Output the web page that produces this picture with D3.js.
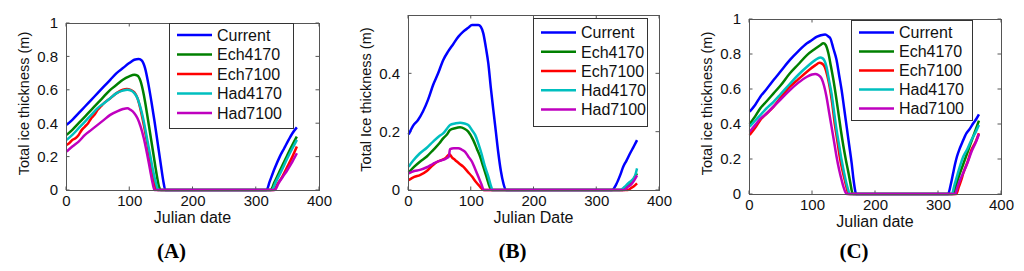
<!DOCTYPE html>
<html>
<head>
<meta charset="utf-8">
<script src="https://cdn.jsdelivr.net/npm/d3@7"></script>
<style>
    body { margin: 0; background: #ffffff; }
    svg { display: block; }
</style>
</head>
<body>
<svg id="ice-chart" width="1024" height="271"></svg>
<script>
/*--------------------------------------------------------------------------------
----- DATA (total ice thickness per julian day)
--------------------------------------------------------------------------------*/

const series_names = ["Current", "Ech4170", "Ech7100", "Had4170", "Had7100"];
const panel_tags = ["(A)", "(B)", "(C)"];
const x_titles = ["Julian date", "Julian Date", "Julian date"];
const y_titles = ["Total ice thickness (m)", "Total Ice thickness (m)", "Total ice thickness (m)"];
const x_ticks = [0, 100, 200, 300, 400];
const y_ticks_full = [0, 0.2, 0.4, 0.6, 0.8, 1];
const y_ticks_small = [0, 0.2, 0.4];

// Panel A : [julian day, thickness]
const a_current = [[1,0.39],[10,0.42],[20,0.46],[30,0.50],[40,0.54],[50,0.58],[60,0.62],[70,0.66],[80,0.70],[90,0.73],[100,0.76],[108,0.78],[115,0.785],[120,0.775],[125,0.73],[130,0.64],[135,0.53],[140,0.41],[145,0.28],[150,0.15],[154,0.05],[157,0],[317,0],[322,0.05],[330,0.13],[338,0.20],[345,0.25],[352,0.30],[358,0.34],[365,0.375]];
const a_ech4170 = [[1,0.33],[10,0.36],[20,0.40],[30,0.44],[40,0.48],[50,0.52],[60,0.56],[70,0.60],[80,0.63],[90,0.66],[100,0.68],[108,0.69],[113,0.685],[118,0.65],[123,0.57],[128,0.46],[133,0.34],[138,0.22],[143,0.10],[147,0.02],[150,0],[323,0],[330,0.05],[340,0.13],[350,0.21],[358,0.27],[365,0.32]];
const a_ech7100 = [[1,0.27],[5,0.28],[10,0.30],[15,0.31],[20,0.33],[25,0.36],[30,0.38],[35,0.40],[40,0.43],[45,0.45],[50,0.48],[55,0.50],[60,0.52],[70,0.55],[80,0.58],[90,0.60],[96,0.605],[102,0.60],[108,0.585],[113,0.55],[118,0.48],[123,0.39],[128,0.29],[133,0.18],[138,0.08],[142,0.01],[144,0],[328,0],[335,0.04],[342,0.08],[350,0.14],[358,0.20],[365,0.26]];
const a_had4170 = [[1,0.30],[10,0.33],[20,0.37],[30,0.41],[40,0.45],[50,0.49],[60,0.52],[70,0.55],[80,0.58],[90,0.595],[97,0.60],[103,0.595],[108,0.58],[113,0.55],[118,0.49],[123,0.41],[128,0.31],[133,0.21],[138,0.11],[143,0.03],[146,0],[325,0],[332,0.05],[340,0.11],[350,0.19],[358,0.25],[365,0.30]];
const a_had7100 = [[1,0.23],[10,0.26],[20,0.29],[30,0.33],[40,0.36],[50,0.39],[60,0.42],[70,0.45],[80,0.47],[90,0.485],[97,0.49],[102,0.48],[108,0.46],[113,0.43],[118,0.38],[123,0.31],[128,0.22],[133,0.12],[137,0.04],[140,0],[330,0],[336,0.04],[343,0.08],[350,0.12],[358,0.17],[365,0.22]];

// Panel B
const b_current = [[1,0.19],[8,0.22],[16,0.24],[24,0.27],[32,0.31],[40,0.36],[48,0.40],[56,0.445],[64,0.475],[72,0.50],[80,0.525],[88,0.543],[96,0.556],[102,0.566],[112,0.566],[116,0.56],[120,0.537],[124,0.49],[128,0.434],[132,0.35],[136,0.274],[140,0.20],[144,0.126],[148,0.065],[152,0.023],[156,0],[325,0],[332,0.02],[338,0.05],[343,0.08],[348,0.10],[354,0.126],[360,0.15],[365,0.171]];
const b_ech4170 = [[1,0.06],[10,0.08],[19,0.097],[30,0.115],[40,0.137],[50,0.16],[56,0.177],[62,0.19],[67,0.206],[75,0.212],[83,0.215],[90,0.21],[96,0.2],[104,0.171],[110,0.14],[115,0.114],[120,0.08],[125,0.046],[130,0.012],[133,0],[342,0],[348,0.01],[355,0.025],[360,0.04],[365,0.057]];
const b_ech7100 = [[1,0.034],[10,0.045],[19,0.051],[30,0.065],[40,0.086],[48,0.098],[54,0.103],[60,0.11],[66,0.123],[70,0.112],[75,0.103],[82,0.09],[88,0.08],[95,0.063],[102,0.046],[108,0.028],[115,0.011],[120,0],[350,0],[355,0.006],[360,0.013],[365,0.023]];
const b_had4170 = [[1,0.08],[8,0.1],[19,0.126],[30,0.145],[40,0.166],[50,0.185],[56,0.194],[62,0.21],[67,0.223],[75,0.228],[83,0.231],[90,0.228],[96,0.223],[102,0.205],[107,0.189],[112,0.16],[117,0.126],[122,0.085],[128,0.046],[132,0.015],[135,0],[338,0],[345,0.01],[352,0.025],[357,0.034],[362,0.05],[365,0.074]];
const b_had7100 = [[1,0.057],[10,0.065],[19,0.069],[30,0.078],[40,0.09],[50,0.1],[56,0.103],[62,0.11],[65,0.115],[67,0.14],[73,0.143],[80,0.143],[86,0.138],[91,0.131],[96,0.115],[102,0.097],[107,0.072],[112,0.046],[117,0.02],[121,0],[345,0],[350,0.01],[356,0.02],[361,0.035],[365,0.05]];

// Panel C
const c_current = [[1,0.47],[10,0.51],[18,0.556],[28,0.60],[39,0.651],[50,0.70],[65,0.766],[78,0.815],[92,0.861],[100,0.88],[108,0.899],[114,0.907],[121,0.912],[126,0.90],[129,0.89],[134,0.83],[139,0.766],[143,0.68],[147,0.594],[151,0.49],[155,0.385],[159,0.28],[163,0.175],[166,0.08],[168,0.03],[170,0],[316,0],[320,0.05],[324,0.118],[327,0.17],[330,0.213],[334,0.255],[338,0.29],[345,0.347],[350,0.37],[356,0.404],[361,0.43],[365,0.455]];
const c_ech4170 = [[1,0.40],[10,0.445],[18,0.49],[28,0.53],[39,0.575],[50,0.62],[65,0.69],[78,0.74],[92,0.794],[105,0.83],[113,0.85],[118,0.861],[122,0.85],[126,0.804],[130,0.73],[134,0.651],[138,0.56],[142,0.461],[146,0.36],[150,0.27],[154,0.19],[158,0.118],[161,0.06],[163,0.02],[165,0],[324,0],[328,0.04],[333,0.10],[340,0.17],[348,0.25],[356,0.33],[365,0.419]];
const c_ech7100 = [[1,0.337],[10,0.38],[18,0.423],[28,0.46],[39,0.499],[50,0.55],[65,0.613],[78,0.655],[92,0.699],[105,0.735],[112,0.75],[116,0.745],[120,0.727],[124,0.68],[128,0.613],[132,0.52],[136,0.404],[140,0.31],[144,0.213],[148,0.14],[152,0.08],[155,0.035],[158,0],[329,0],[333,0.04],[337,0.08],[340,0.118],[347,0.185],[353,0.251],[360,0.30],[365,0.347]];
const c_had4170 = [[1,0.385],[10,0.42],[18,0.451],[28,0.49],[39,0.527],[50,0.57],[65,0.63],[78,0.68],[92,0.727],[105,0.765],[113,0.78],[117,0.775],[120,0.76],[123,0.727],[127,0.65],[131,0.575],[135,0.47],[139,0.366],[143,0.28],[147,0.194],[151,0.12],[154,0.07],[157,0.03],[160,0],[322,0],[326,0.05],[330,0.1],[335,0.16],[340,0.213],[347,0.26],[353,0.309],[360,0.355],[365,0.394]];
const c_had7100 = [[1,0.356],[10,0.395],[18,0.43],[28,0.46],[39,0.50],[50,0.54],[65,0.594],[78,0.635],[92,0.67],[100,0.683],[105,0.686],[110,0.68],[115,0.661],[119,0.62],[123,0.556],[127,0.47],[131,0.385],[135,0.30],[139,0.213],[143,0.14],[147,0.08],[150,0.04],[153,0.01],[155,0],[327,0],[331,0.04],[335,0.08],[340,0.12],[347,0.18],[353,0.24],[360,0.295],[365,0.343]];

/*--------------------------------------------------------------------------------
----- STYLE AND LAYOUT
--------------------------------------------------------------------------------*/

// MATLAB-like line colors, same order as the series names
const series_colors = ["#0000ff", "#008000", "#ff0000", "#00bfbf", "#bf00bf"];
const sans_font = "'Liberation Sans', Arial, Helvetica, sans-serif";
const serif_font = "'Liberation Serif', 'Times New Roman', serif";

// Pixel layout of every panel (axes box + legend box)
const panels = [
    { tag: panel_tags[0], x_title: x_titles[0], y_title: y_titles[0], y_max: 1, y_ticks: y_ticks_full,
      series: [a_current, a_ech4170, a_ech7100, a_had4170, a_had7100],
      left: 66, right: 319, top: 23, bottom: 190,
      legend: { x: 169, y: 23, w: 124, h: 105, row0: 12, step: 19.5 } },
    { tag: panel_tags[1], x_title: x_titles[1], y_title: y_titles[1], y_max: 0.6, y_ticks: y_ticks_small,
      series: [b_current, b_ech4170, b_ech7100, b_had4170, b_had7100],
      left: 408, right: 659, top: 15, bottom: 190,
      legend: { x: 533, y: 18, w: 114, h: 108, row0: 14.5, step: 19.25 } },
    { tag: panel_tags[2], x_title: x_titles[2], y_title: y_titles[2], y_max: 1, y_ticks: y_ticks_full,
      series: [c_current, c_ech4170, c_ech7100, c_had4170, c_had7100],
      left: 749, right: 1001, top: 19, bottom: 194,
      legend: { x: 851, y: 20, w: 121, h: 100, row0: 12.5, step: 19 } }
];

const svg = d3.select("#ice-chart");
const tick_format = d3.format("~g");
const tick_len = 3.5;

/*--------------------------------------------------------------------------------
----- DRAWING
--------------------------------------------------------------------------------*/

// Function to draw one panel with its axes, curves and legend
function draw_panel(p) {
    const g = svg.append("g");

    const x = d3.scaleLinear().domain([0, 400]).range([p.left, p.right]);
    const y = d3.scaleLinear().domain([0, p.y_max]).range([p.bottom, p.top]);

    // White axes background
    g.append("rect")
        .attr("x", p.left).attr("y", p.top)
        .attr("width", p.right - p.left).attr("height", p.bottom - p.top)
        .attr("fill", "#fff");

    // Bottom and left axes (labels only, ticks drawn inside afterwards)
    const x_axis = d3.axisBottom(x).tickValues(x_ticks).tickFormat(tick_format).tickSize(0).tickPadding(5);
    const y_axis = d3.axisLeft(y).tickValues(p.y_ticks).tickFormat(tick_format).tickSize(0).tickPadding(8);

    g.append("g")
        .attr("transform", "translate(0," + p.bottom + ")")
        .call(x_axis)
        .call(a => a.select(".domain").remove());
    g.append("g")
        .attr("transform", "translate(" + p.left + ",0)")
        .call(y_axis)
        .call(a => a.select(".domain").remove());

    g.selectAll(".tick text")
        .attr("fill", "#111")
        .style("font-family", sans_font)
        .style("font-size", "15px");

    // Inner ticks on all four sides (MATLAB box style)
    const ticks = g.append("g").attr("stroke", "#555").attr("stroke-width", 1);
    x_ticks.forEach(function (t) {
        ticks.append("line").attr("x1", x(t)).attr("x2", x(t)).attr("y1", p.bottom).attr("y2", p.bottom - tick_len);
        ticks.append("line").attr("x1", x(t)).attr("x2", x(t)).attr("y1", p.top).attr("y2", p.top + tick_len);
    });
    p.y_ticks.forEach(function (t) {
        ticks.append("line").attr("x1", p.left).attr("x2", p.left + tick_len).attr("y1", y(t)).attr("y2", y(t));
        ticks.append("line").attr("x1", p.right).attr("x2", p.right - tick_len).attr("y1", y(t)).attr("y2", y(t));
    });

    // The curves, drawn in series order so the last one sits on top
    const line = d3.line()
        .x(d => x(d[0]))
        .y(d => y(d[1]))
        .curve(d3.curveMonotoneX);

    p.series.forEach(function (s, i) {
        g.append("path")
            .datum(s)
            .attr("d", line)
            .attr("fill", "none")
            .attr("stroke", series_colors[i])
            .attr("stroke-width", 2.5)
            .attr("stroke-linejoin", "round");
    });

    // Axes box
    g.append("rect")
        .attr("x", p.left + 0.5).attr("y", p.top + 0.5)
        .attr("width", p.right - p.left).attr("height", p.bottom - p.top)
        .attr("fill", "none")
        .attr("stroke", "#555")
        .attr("stroke-width", 1);

    // Axis titles
    g.append("text")
        .attr("x", (p.left + p.right) / 2)
        .attr("y", p.bottom + 33)
        .attr("text-anchor", "middle")
        .attr("fill", "#111")
        .style("font-family", sans_font)
        .style("font-size", "16px")
        .text(p.x_title);

    g.append("text")
        .attr("transform", "translate(" + (p.left - 42) + "," + ((p.top + p.bottom) / 2 - 3) + ") rotate(-90)")
        .attr("dy", "0.35em")
        .attr("text-anchor", "middle")
        .attr("fill", "#111")
        .style("font-family", sans_font)
        .style("font-size", "14.5px")
        .text(p.y_title);

    // Panel tag under the chart
    g.append("text")
        .attr("x", (p.left + p.right) / 2 - 21)
        .attr("y", 258)
        .attr("text-anchor", "middle")
        .attr("fill", "#000")
        .style("font-family", serif_font)
        .style("font-weight", "bold")
        .style("font-size", "21px")
        .text(p.tag);

    // Legend box
    const lg = p.legend;
    const legend = g.append("g");
    legend.append("rect")
        .attr("x", lg.x + 0.5).attr("y", lg.y + 0.5)
        .attr("width", lg.w).attr("height", lg.h)
        .attr("fill", "#fff")
        .attr("stroke", "#333")
        .attr("stroke-width", 1);

    series_names.forEach(function (name, i) {
        const row_y = lg.y + lg.row0 + i * lg.step;
        legend.append("line")
            .attr("x1", lg.x + 8).attr("x2", lg.x + 43)
            .attr("y1", row_y).attr("y2", row_y)
            .attr("stroke", series_colors[i])
            .attr("stroke-width", 2.5);
        legend.append("text")
            .attr("x", lg.x + 48)
            .attr("y", row_y)
            .attr("dy", "0.36em")
            .attr("fill", "#111")
            .style("font-family", sans_font)
            .style("font-size", "16px")
            .text(name);
    });
}

panels.forEach(draw_panel);
</script>
</body>
</html>
